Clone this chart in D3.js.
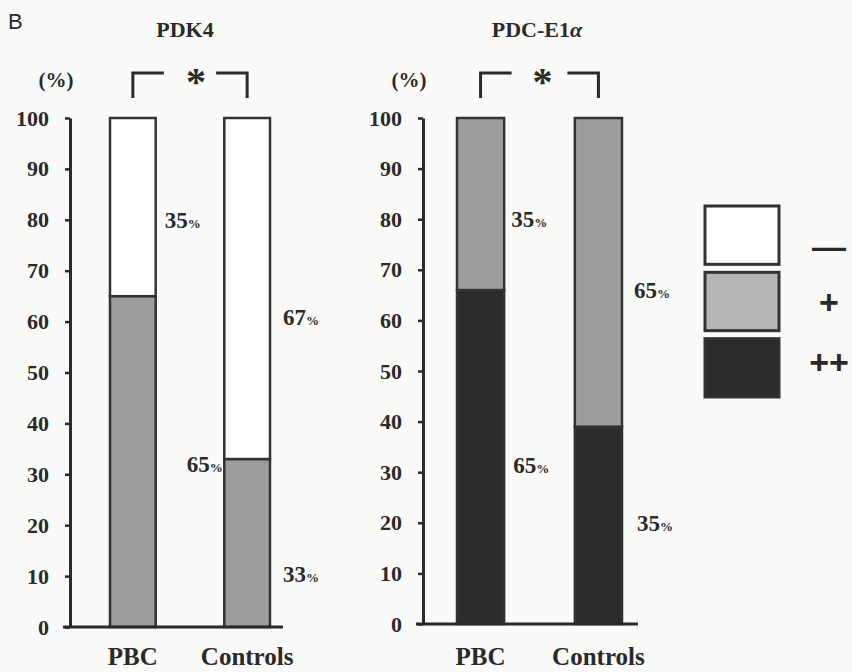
<!DOCTYPE html>
<html>
<head>
<meta charset="utf-8">
<script src="https://cdn.jsdelivr.net/npm/d3@7"></script>
<style>
  body { margin: 0; background: #fafaf8; }
  text { font-family: "Liberation Serif", "DejaVu Serif", serif; fill: #2a2a2a; }
</style>
</head>
<body>
<div id="chart"></div>
<script>
// categories and values (percent of cases)
const groups = ["PBC", "Controls"];
const grades = ["-", "+", "++"];
const legendText = ["\u2014", "+", "++"];
const ticks = [0, 10, 20, 30, 40, 50, 60, 70, 80, 90, 100];

// PDK4
const pdk4Neg = [35, 67];
const pdk4Pos = [65, 33];
const pdk4PosPos = [0, 0];
const pdk4Labels = ["35", "65", "67", "33"];
const pdk4LabelAt = [80, 32, 61, 10.5];

// PDC-E1a
const pdcNeg = [0, 0];
const pdcPos = [34, 61];
const pdcPosPos = [66, 39];
const pdcLabels = ["35", "65", "65", "35"];
const pdcLabelAt = [80, 31.5, 66, 20];

const colors = {"-": "#ffffff", "+": "#9d9d9d", "++": "#2c2c2c"};
const legendColors = {"-": "#ffffff", "+": "#b5b5b5", "++": "#2c2c2c"};

const WIDTH = 852, HEIGHT = 672;
const svg = d3.select("#chart").append("svg")
  .attr("width", WIDTH)
  .attr("height", HEIGHT);

svg.append("text")
  .attr("x", 8).attr("y", 29)
  .style("font-family", "Liberation Sans, Arial, sans-serif")
  .style("font-size", "22px")
  .text("B");

function panel(opt) {
  const g = svg.append("g");
  const y = d3.scaleLinear().domain([0, 100]).range([opt.y0, 118]);
  const x = d3.scaleBand().domain(groups).range(opt.bars).paddingInner(0.6).paddingOuter(0);

  // stacked data: ++ at bottom, then +, then -
  const rows = groups.map(function(gname, i) {
    return {group: gname, "++": opt.pp[i], "+": opt.p[i], "-": opt.n[i]};
  });
  const stack = d3.stack().keys(["++", "+", "-"])(rows);

  stack.forEach(function(layer) {
    g.selectAll(null)
      .data(layer.filter(function(d) { return d[1] > d[0]; }))
      .enter().append("rect")
      .attr("x", function(d) { return x(d.data.group); })
      .attr("y", function(d) { return y(d[1]); })
      .attr("width", x.bandwidth())
      .attr("height", function(d) { return y(d[0]) - y(d[1]); })
      .attr("fill", colors[layer.key])
      .attr("stroke", "#333")
      .attr("stroke-width", 2.5);
  });

  // y axis
  const axis = g.append("g")
    .attr("transform", "translate(" + opt.axisX + ",0)")
    .call(d3.axisLeft(y).tickValues(ticks).tickSize(5).tickSizeOuter(0).tickPadding(16));
  axis.select(".domain").attr("stroke", "#2a2a2a").attr("stroke-width", 3);
  axis.selectAll(".tick line").attr("stroke", "#2a2a2a").attr("stroke-width", 2.5);
  axis.selectAll(".tick text")
    .style("font-family", "Liberation Serif, serif")
    .style("font-size", "22px")
    .style("font-weight", "bold")
    .attr("fill", "#2a2a2a");

  // baseline
  g.append("line")
    .attr("x1", opt.axisX - 7).attr("x2", opt.baseEnd)
    .attr("y1", y(0)).attr("y2", y(0))
    .attr("stroke", "#2a2a2a").attr("stroke-width", 3);

  // (%) label
  g.append("text")
    .attr("x", opt.axisX - 14).attr("y", 87)
    .attr("text-anchor", "middle")
    .style("font-size", "21px").style("font-weight", "bold")
    .text("(%)");

  // title
  const t = g.append("text")
    .attr("x", opt.titleX).attr("y", 37)
    .attr("text-anchor", "middle")
    .style("font-size", "22px").style("font-weight", "bold");
  t.append("tspan").text(opt.title);
  if (opt.titleItalic) t.append("tspan").style("font-style", "italic").text(opt.titleItalic);

  // significance bracket
  const x1 = x("PBC") + x.bandwidth() / 2, x2 = x("Controls") + x.bandwidth() / 2;
  const mid = (x1 + x2) / 2 + opt.starDx;
  g.append("path")
    .attr("d", "M" + x1 + ",98V73H" + (x1 + 31))
    .attr("fill", "none").attr("stroke", "#2a2a2a").attr("stroke-width", 3);
  g.append("path")
    .attr("d", "M" + (x2 - 31) + ",73H" + x2 + "V98")
    .attr("fill", "none").attr("stroke", "#2a2a2a").attr("stroke-width", 3);
  g.append("text")
    .attr("x", mid).attr("y", 95)
    .attr("text-anchor", "middle")
    .style("font-size", "40px").style("font-weight", "bold")
    .text("*");

  // group labels
  g.selectAll(null).data(groups).enter().append("text")
    .attr("x", function(d) { return x(d) + x.bandwidth() / 2; })
    .attr("y", 665)
    .attr("text-anchor", "middle")
    .style("font-size", "25px").style("font-weight", "bold")
    .text(function(d) { return d; });

  // percent labels
  opt.labels.forEach(function(lab, i) {
    const gi = Math.floor(i / 2);
    const tx = g.append("text")
      .attr("x", x(groups[gi]) + x.bandwidth() + opt.dx[i])
      .attr("y", y(opt.labelAt[i]) + 8)
      .style("font-size", "23px").style("font-weight", "bold");
    tx.append("tspan").text(lab);
    tx.append("tspan").style("font-size", "13px").text("%");
  });
}

panel({
  title: "PDK4", titleX: 185, axisX: 70, bars: [110, 270], baseEnd: 283, y0: 627, starDx: 6,
  n: pdk4Neg, p: pdk4Pos, pp: pdk4PosPos,
  labels: pdk4Labels, labelAt: pdk4LabelAt, dx: [9, 31, 13, 13]
});

panel({
  title: "PDC-E1", titleItalic: "\u03b1", titleX: 537, axisX: 423, bars: [457, 622], baseEnd: 638, y0: 624, starDx: 3,
  n: pdcNeg, p: pdcPos, pp: pdcPosPos,
  labels: pdcLabels, labelAt: pdcLabelAt, dx: [7, 9, 12, 15]
});

// legend
const legend = svg.append("g");
const ly = d3.scaleBand().domain(grades).range([206, 397]).paddingInner(0.12);
const legendDy = [23, 12, 6];
legend.selectAll("rect").data(grades).enter().append("rect")
  .attr("x", 705).attr("y", function(d) { return ly(d); })
  .attr("width", 74).attr("height", ly.bandwidth())
  .attr("fill", function(d) { return legendColors[d]; })
  .attr("stroke", "#333").attr("stroke-width", 3);
legend.selectAll("text").data(grades).enter().append("text")
  .attr("x", 829).attr("y", function(d, i) { return ly(d) + ly.bandwidth() / 2 + legendDy[i]; })
  .attr("text-anchor", "middle")
  .style("font-family", "Liberation Sans, Arial, sans-serif")
  .style("font-size", "34px").style("font-weight", "bold")
  .text(function(d, i) { return legendText[i]; });
</script>
</body>
</html>
